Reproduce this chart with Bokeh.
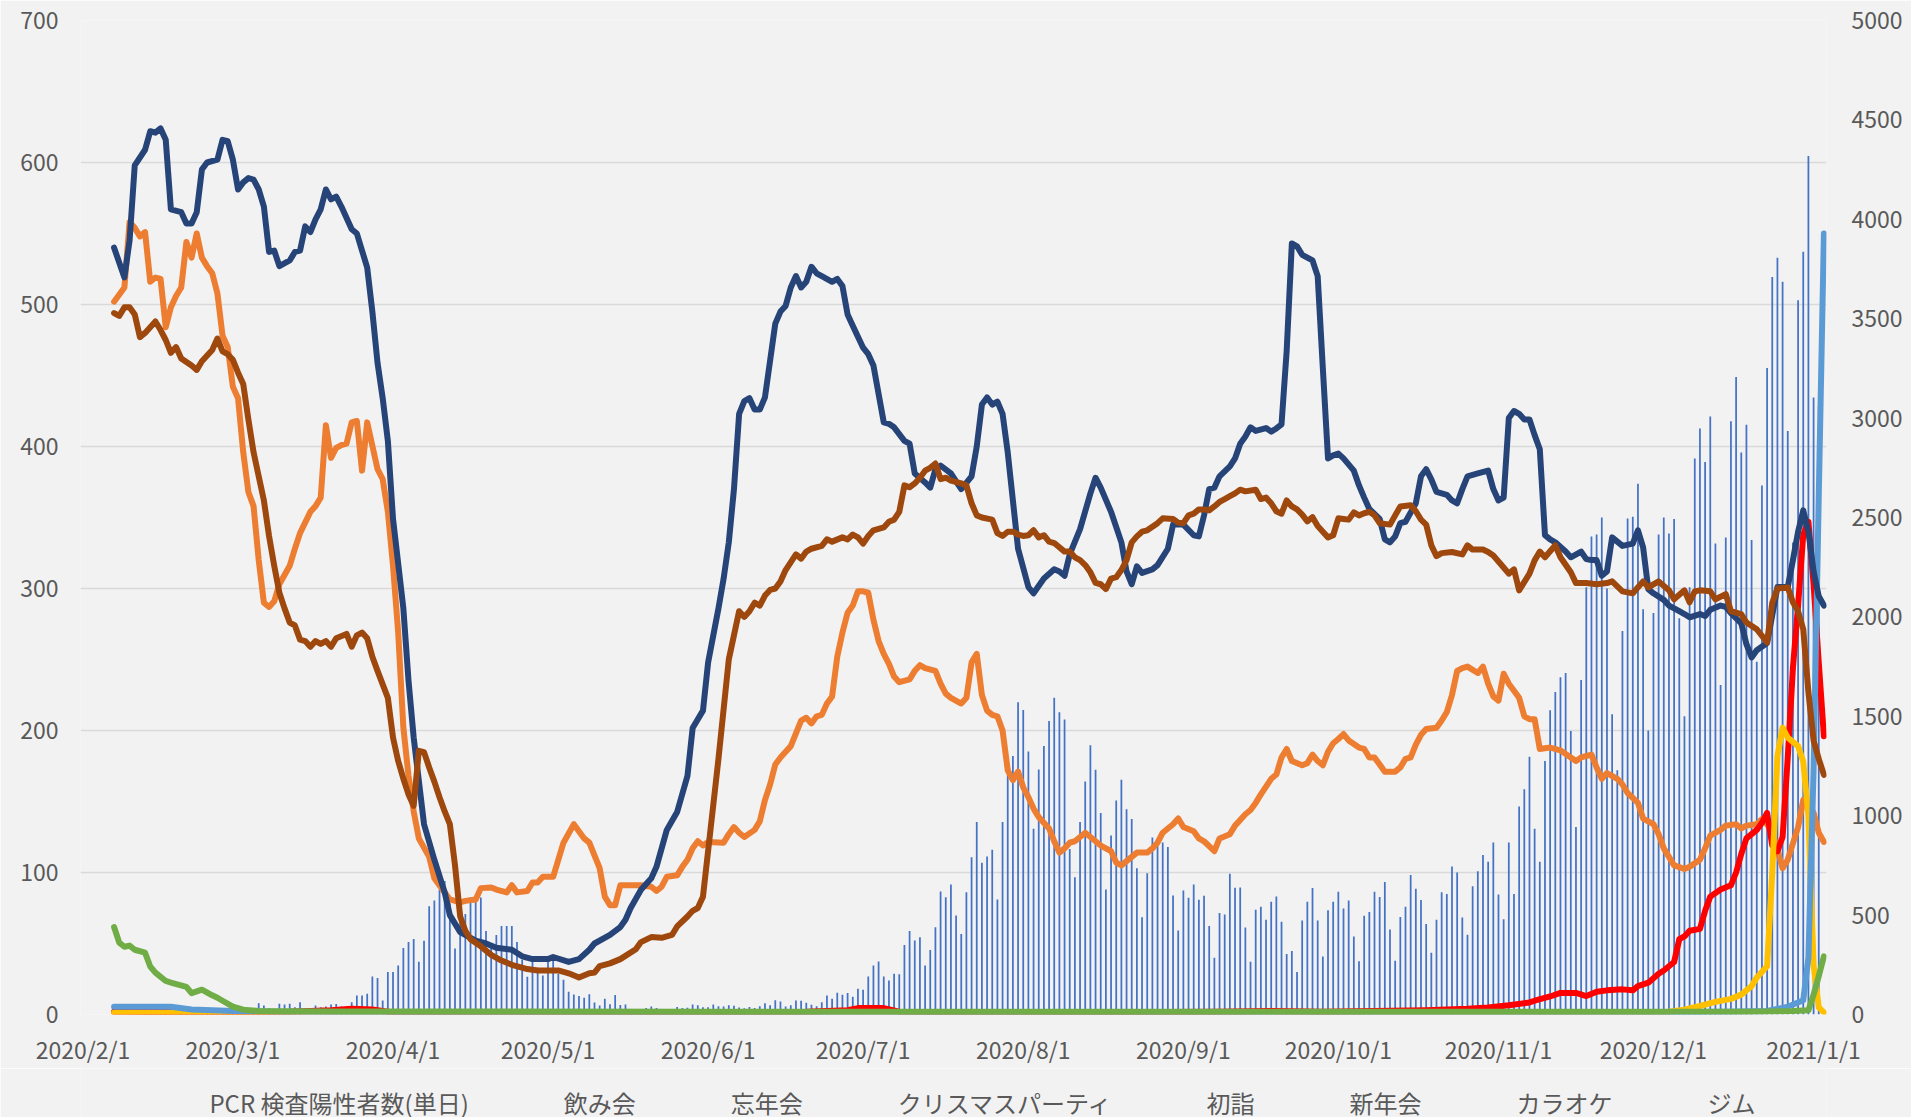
from datetime import date
from bokeh.plotting import figure
from bokeh.layouts import column
from bokeh.models import Range1d, LinearAxis, FixedTicker, Legend, LegendItem, ColumnDataSource
from bokeh.embed import file_html
from bokeh.resources import INLINE

START = date(2020, 2, 1)

def dnum(s):
    m, d = map(int, s.split("/"))
    y = 2021 if m == 1 else 2020
    return (date(y, m, d) - START).days

# ---------------- data ----------------
# PCR positives (daily, right axis), consecutive days from 2020/2/1
PCR_FEB = [0,0,0,0,0,0,0,0,0,0,0,1,4,8,12,5,7,10,3,12,11,23,12,3,11,14,19,21,9]
PCR_MAR = [9,14,16,33,30,57,45,33,26,54,50,54,37,62,32,15,45,37,40,50,53,40,40,62,96,96,104,191,183,70,214]
PCR_APR = [214,247,334,365,380,265,371,545,573,627,672,560,332,505,505,590,590,588,420,360,400,445,445,445,365,275,190,275,235,196]
PCR_MAY = [265,290,205,175,115,100,93,84,102,60,45,79,52,98,48,50,25,25,28,33,40,33,21,26,21,38,33,34,50,47,37]
PCR_JUN = [36,50,41,40,47,44,35,31,38,33,41,57,46,72,66,40,47,71,69,59,49,42,61,96,79,109,99,108,89,130]
PCR_JUL = [124,191,246,266,191,171,205,202,350,420,372,389,246,325,439,619,590,654,498,405,615,791,968,763,795,829,579,968,1295,1300,1571]
PCR_AUG = [1532,1323,934,1233,1350,1476,1593,1521,1484,833,690,968,1172,1354,1231,1014,629,900,1077,1181,1033,983,736,489,711,890,872,865,842,599,423]
PCR_SEP = [624,587,654,577,597,445,285,511,503,708,637,639,437,265,527,542,476,567,594,467,304,320,214,473,567,636,473,292,524,567]
PCR_OCT = [618,533,573,392,268,497,515,618,591,666,428,271,491,542,702,633,576,455,310,476,615,606,745,714,488,401,645,720,802,768,865]
PCR_NOV = [603,479,865,606,1046,1133,1296,934,768,1275,1531,1622,1697,1718,1426,943,1682,2149,2405,2414,2500,2143,1510,1228,1929,2495,2504,2670,2038,1429]
PCR_DEC = [2019,2414,2500,2420,2493,1993,1500,2149,2797,2948,2779,3008,2369,1658,2399,2984,3207,2827,2966,2387,1775,2661,3252,3710,3806,3686,2935,2374,3593,3837,4319]
PCR_JAN = [3104,3059]

NOMIKAI = [("2/7",502),("2/9",512),("2/10",558),("2/11",554),("2/12",548),("2/13",551),("2/14",516),("2/15",519),("2/16",518),("2/17",484),("2/18",498),("2/19",506),("2/20",512),("2/21",544),("2/22",533),("2/23",550),("2/24",533),("2/25",527),("2/26",522),("2/27",508),("2/28",478),("2/29",470),("3/1",442),("3/2",434),("3/3",396),("3/4",368),("3/5",358),("3/6",320),("3/7",290),("3/8",287),("3/9",291),("3/10",303),("3/12",316),("3/13",328),("3/14",339),("3/16",354),("3/17",358),("3/18",364),("3/19",415),("3/20",392),("3/21",399),("3/22",401),("3/23",402),("3/24",417),("3/25",418),("3/26",383),("3/27",417),("3/29",384),("3/30",377),("3/31",354),("4/1",316),("4/2",269),("4/3",202),("4/4",168),("4/5",143),("4/6",124),("4/8",111),("4/9",96),("4/11",86),("4/12",81),("4/14",79),("4/15",80),("4/17",81),("4/18",89),("4/20",89.5),("4/21",88),("4/23",86),("4/24",91),("4/25",86),("4/27",87),("4/28",93),("4/29",93),("4/30",97),("5/2",97),("5/4",121),("5/6",134),("5/8",124),("5/9",121),("5/11",103),("5/12",83),("5/13",77),("5/14",77),("5/15",91),("5/17",91),("5/19",91),("5/21",90),("5/22",87),("5/23",90),("5/24",97),("5/26",98),("5/27",104),("5/28",109),("5/29",117),("5/30",122),("5/31",119),("6/1",121.5),("6/4",121),("6/5",127),("6/6",132),("6/7",128),("6/8",125),("6/10",130),("6/11",136),("6/12",151),("6/13",162),("6/14",176),("6/15",181),("6/17",189),("6/18",198),("6/19",207),("6/20",209),("6/21",205),("6/22",210),("6/23",211),("6/24",219),("6/25",224),("6/26",252),("6/27",269),("6/28",283),("6/29",288),("6/30",298),("7/1",298),("7/2",297),("7/3",278),("7/4",263),("7/5",254),("7/6",247),("7/7",238),("7/8",234),("7/10",236),("7/11",242),("7/12",246),("7/13",244),("7/15",242),("7/16",233),("7/17",226),("7/18",223),("7/20",219),("7/21",223),("7/22",248),("7/23",254),("7/24",225),("7/25",214),("7/26",211),("7/27",210),("7/28",200),("7/29",172),("7/30",165),("7/31",171),("8/1",160),("8/2",153),("8/3",145),("8/4",139),("8/6",131),("8/7",122),("8/8",114),("8/9",117),("8/10",121),("8/11",122),("8/13",128),("8/14",125),("8/16",119),("8/17",117),("8/18",115),("8/19",107),("8/20",105),("8/22",111),("8/23",114),("8/25",114),("8/26",117),("8/27",121),("8/28",128),("8/30",134),("8/31",138),("9/1",132),("9/3",129),("9/4",124),("9/5",122),("9/7",115),("9/8",124),("9/10",127),("9/11",133),("9/12",137),("9/13",141),("9/14",144),("9/15",149),("9/16",155),("9/18",166),("9/19",169),("9/20",181),("9/21",187),("9/22",178.5),("9/24",175.5),("9/25",177),("9/26",183),("9/27",178.5),("9/28",175.5),("9/29",185),("9/30",191),("10/1",194),("10/2",197.5),("10/3",193),("10/5",188),("10/6",187),("10/7",181),("10/8",181),("10/9",176),("10/10",171),("10/12",171),("10/13",174),("10/14",180),("10/15",181),("10/16",190),("10/17",197),("10/18",201),("10/20",202),("10/21",207),("10/22",213),("10/23",225),("10/24",242),("10/25",244),("10/26",245),("10/28",240.5),("10/29",245),("10/30",233),("10/31",224),("11/1",221),("11/2",240),("11/3",233),("11/5",223),("11/6",210),("11/7",208),("11/8",208),("11/9",187),("11/11",188),("11/13",186),("11/15",181),("11/16",178.5),("11/17",181),("11/19",183),("11/20",174),("11/21",166),("11/22",170),("11/24",166),("11/25",162),("11/26",156),("11/28",149),("11/29",138),("12/1",134),("12/2",127),("12/3",117),("12/4",111),("12/5",105),("12/7",102.5),("12/8",104),("12/10",109),("12/11",117),("12/12",126),("12/14",130),("12/15",133),("12/17",134),("12/18",131),("12/19",133),("12/21",134),("12/22",137.6),("12/23",134),("12/24",128),("12/25",116),("12/26",103),("12/27",109),("12/29",132),("12/30",151),("12/31",149),("1/1",142),("1/2",128),("1/3",121.5)]

BONENKAI = [("2/7",2),("2/21",1.5),("3/12",2),("3/20",3),("3/24",4),("3/28",3.5),("4/1",1.5),("4/21",1),("5/11",1),("5/31",1.5),("6/20",2),("6/28",3),("6/30",4.5),("7/5",4.5),("7/8",2),("7/20",1.5),("8/19",1.5),("9/8",2),("9/18",2.5),("9/28",2),("10/8",2.5),("10/18",3),("10/26",4),("10/30",5),("11/3",6.5),("11/7",8.5),("11/8",9.7),("11/11",12.7),("11/13",15.2),("11/16",15.2),("11/18",13),("11/20",16),("11/22",17),("11/25",17.7),("11/27",17),("11/28",20),("11/30",22.4),("12/2",28.7),("12/3",31),("12/5",37),("12/6",53),("12/7",55),("12/8",59),("12/10",60.3),("12/11",73),("12/12",83),("12/14",88),("12/16",91),("12/17",100),("12/18",113),("12/19",124),("12/21",130),("12/22",135),("12/23",142),("12/24",119),("12/25",115),("12/26",125),("12/27",181),("12/28",244),("12/29",288),("12/30",338),("12/31",347),("1/1",303),("1/2",248),("1/3",196)]

XMAS = [("2/7",1.2),("2/20",1),("3/10",0.5),("11/1",0.5),("11/20",1),("12/1",1.5),("12/4",2),("12/7",3.4),("12/10",6),("12/13",8.9),("12/16",11),("12/18",14),("12/20",20),("12/21",26),("12/23",34),("12/24",100),("12/25",182),("12/26",202),("12/27",195),("12/28",192),("12/29",189),("12/30",178),("12/31",140),("1/1",35),("1/2",5),("1/3",1.5)]

HATSUMODE = [("2/7",5.5),("2/18",5.5),("2/22",3.5),("3/1",2.5),("3/10",2),("4/1",1.5),("6/1",1.3),("9/1",1.3),("12/1",1.5),("12/15",2),("12/23",2.5),("12/27",5.5),("12/30",10),("12/31",40),("1/1",172),("1/2",365),("1/3",550)]

SHINNENKAI = [("2/7",61.6),("2/8",50.6),("2/9",47.7),("2/10",48.5),("2/11",45.6),("2/13",43.5),("2/14",33.8),("2/15",29.5),("2/17",23.6),("2/18",22.5),("2/21",19.5),("2/22",15),("2/24",17.5),("2/26",13.5),("2/27",11.8),("2/28",9.7),("3/1",5.5),("3/3",3.4),("3/6",2.5),("3/20",2.2),("6/1",2),("9/1",2),("12/20",2),("12/28",2.5),("12/31",3),("1/1",14),("1/2",27),("1/3",41)]

KARAOKE = [("2/7",540),("2/9",519),("2/10",545),("2/11",598),("2/13",609),("2/14",622),("2/15",621),("2/16",624),("2/17",616),("2/18",567),("2/20",565),("2/21",557),("2/22",557),("2/23",565),("2/24",595),("2/25",600),("2/27",602),("2/28",616),("2/29",615),("3/1",602),("3/2",581),("3/3",586),("3/4",589),("3/5",588),("3/6",581),("3/7",569),("3/8",537),("3/9",538),("3/10",527),("3/12",531),("3/13",537),("3/14",538),("3/15",555),("3/16",551),("3/17",560),("3/18",567),("3/19",581),("3/20",574),("3/21",576),("3/22",569),("3/24",553),("3/25",550),("3/26",538),("3/27",526),("3/28",495),("3/29",459),("3/30",434),("3/31",404),("4/1",349),("4/3",286),("4/4",235),("4/5",195),("4/7",134),("4/9",109),("4/11",86),("4/12",70),("4/14",58),("4/17",52),("4/19",50),("4/21",47),("4/24",45.6),("4/26",41),("4/28",39),("5/1",39),("5/2",40.5),("5/5",37),("5/7",39),("5/9",45.6),("5/10",50),("5/13",56),("5/15",61.6),("5/16",66.7),("5/17",75),("5/19",87.8),("5/21",96),("5/22",104),("5/24",130),("5/26",142.6),("5/28",168),("5/29",201.7),("5/31",214),("6/1",248),("6/3",286),("6/4",307),("6/5",332.5),("6/6",370),("6/7",423),("6/8",432),("6/9",434),("6/10",426),("6/11",426),("6/12",434.6),("6/14",486.5),("6/15",495),("6/16",499),("6/17",512),("6/18",520),("6/19",512),("6/20",516),("6/21",526.6),("6/22",522),("6/23",520),("6/25",516),("6/26",518),("6/27",513),("6/28",493),("6/29",485),("7/1",469.6),("7/2",465),("7/3",457),("7/5",417),("7/6",416),("7/7",413.5),("7/9",404),("7/10",402),("7/11",381),("7/13",374.7),("7/14",371),("7/15",384),("7/16",386.5),("7/18",381),("7/20",370),("7/22",379),("7/23",400),("7/24",429.5),("7/25",434.6),("7/26",429.5),("7/27",431.6),("7/28",423),("7/29",395.8),("7/30",362),("7/31",328),("8/2",301),("8/3",296.6),("8/5",307),("8/7",313.5),("8/8",312),("8/9",309),("8/10",324),("8/12",341.8),("8/14",367),("8/15",378),("8/16",371),("8/18",354),("8/20",332.5),("8/21",312),("8/22",303),("8/23",315.6),("8/24",311),("8/26",313.5),("8/27",316.5),("8/29",328),("8/30",345),("9/1",345),("9/3",337.5),("9/4",336.7),("9/5",351.5),("9/6",370),("9/7",371),("9/8",379),("9/10",386),("9/11",391.6),("9/12",402),("9/13",407),("9/14",413.5),("9/15",411),("9/17",413),("9/18",410.5),("9/19",412.7),("9/20",415.6),("9/21",467.5),("9/22",543),("9/23",541),("9/24",535),("9/25",533),("9/26",531),("9/27",520),("9/28",455),("9/29",391.6),("9/30",393.7),("10/1",395),("10/2",391.6),("10/4",383),("10/5",372.6),("10/6",364),("10/7",356),("10/9",349),("10/10",334.6),("10/11",332.5),("10/12",336.7),("10/13",346),("10/14",347),("10/16",360),("10/17",379),("10/18",384),("10/19",376.8),("10/20",368),("10/22",366),("10/23",362),("10/24",360),("10/25",370),("10/26",379),("10/28",381),("10/30",383),("10/31",370),("11/1",362),("11/2",364),("11/3",420),("11/4",425),("11/5",423),("11/6",419),("11/7",419),("11/8",408),("11/9",398),("11/10",337.6),("11/11",334.6),("11/12",332.5),("11/14",326),("11/15",322),("11/17",326),("11/18",320.7),("11/19",320),("11/20",320),("11/21",309),("11/22",312),("11/23",336),("11/24",333),("11/25",330),("11/27",331.6),("11/28",341),("11/29",329),("11/30",299.6),("12/1",296.6),("12/3",292),("12/4",288),("12/6",284),("12/7",282),("12/8",279.7),("12/10",282),("12/11",280.6),("12/12",285),("12/14",288),("12/15",287),("12/16",282.7),("12/18",275.5),("12/19",260.8),("12/20",251.5),("12/21",256.5),("12/23",261.6),("12/25",301),("12/27",301),("12/28",320),("12/29",340),("12/30",355),("12/31",340),("1/1",312),("1/2",294.5),("1/3",288)]

GYM = [("2/7",494),("2/8",492),("2/9",498),("2/10",498),("2/11",493),("2/12",477),("2/13",480),("2/15",488),("2/16",482),("2/17",475),("2/18",466),("2/19",470),("2/20",462),("2/22",457),("2/23",454),("2/24",460),("2/26",468),("2/27",476),("2/28",467),("2/29",465),("3/1",461),("3/2",452),("3/3",444),("3/4",419),("3/5",396),("3/6",379),("3/7",362),("3/8",337),("3/9",316),("3/10",297),("3/11",286),("3/12",276),("3/13",274),("3/14",264),("3/15",263),("3/16",259),("3/17",263),("3/18",261),("3/19",263),("3/20",259),("3/21",265),("3/23",268),("3/24",259),("3/25",267),("3/26",269),("3/27",265),("3/28",252),("3/29",242),("3/31",223),("4/1",195),("4/2",178.5),("4/3",166),("4/4",155),("4/5",147),("4/6",185.7),("4/7",184.8),("4/8",174),("4/9",164),("4/10",153),("4/11",143),("4/12",134),("4/13",105),("4/14",69),("4/15",59),("4/16",53),("4/18",48),("4/20",42),("4/22",38),("4/24",35),("4/27",32),("4/29",31),("5/3",31),("5/5",29),("5/7",26),("5/9",29),("5/10",29.5),("5/11",34),("5/13",36),("5/15",39),("5/18",46),("5/19",51),("5/21",54.5),("5/23",54),("5/25",56),("5/26",62),("5/28",69),("5/29",73),("5/30",75),("5/31",83),("6/3",180),("6/5",250),("6/7",284),("6/8",280),("6/9",284),("6/10",290),("6/11",288),("6/12",295),("6/13",299),("6/14",300),("6/15",305),("6/16",313),("6/18",324),("6/19",321),("6/20",326),("6/21",328),("6/23",330),("6/24",334.6),("6/25",333),("6/27",336),("6/28",334.6),("6/29",338),("6/30",336),("7/1",331.6),("7/2",337),("7/3",341),("7/5",343),("7/6",347),("7/7",348.5),("7/8",354),("7/9",372.6),("7/10",371.3),("7/11",374),("7/12",378),("7/13",383),("7/14",385),("7/15",388),("7/16",377),("7/17",378),("7/18",376),("7/20",374),("7/21",372.6),("7/22",360),("7/23",351.5),("7/24",350),("7/26",348.5),("7/27",339),("7/28",337),("7/29",340),("7/30",340),("7/31",338),("8/1",337),("8/2",337.5),("8/3",341),("8/4",336),("8/5",337.5),("8/6",333),("8/7",332),("8/9",326),("8/10",326),("8/11",322),("8/12",320),("8/13",316.5),("8/14",311.4),("8/15",304),("8/16",303),("8/17",299.6),("8/18",307),("8/19",308),("8/20",313),("8/21",320),("8/22",332.5),("8/23",336.7),("8/24",340),("8/25",341),("8/27",346),("8/28",349.4),("8/30",349),("8/31",346.4),("9/1",346),("9/2",351.5),("9/3",352.7),("9/4",355.7),("9/5",355.7),("9/6",355),("9/7",357.8),("9/8",361),("9/9",363),("9/10",365),("9/11",367),("9/12",369.6),("9/13",368.4),("9/15",369.6),("9/16",363),("9/17",364),("9/18",360),("9/19",354.4),("9/20",352.7),("9/21",362),("9/22",357.8),("9/23",355.7),("9/24",352),("9/25",347.3),("9/26",350.2),("9/27",344),("9/28",340),("9/29",336),("9/30",337.5),("10/1",349.4),("10/2",349),("10/3",348.5),("10/4",353.6),("10/5",351.5),("10/6",353),("10/7",354),("10/8",351.5),("10/9",346),("10/11",345),("10/12",351.5),("10/13",357.8),("10/15",358.6),("10/16",354.4),("10/17",348.5),("10/18",345),("10/19",330.4),("10/20",322.8),("10/21",324.9),("10/23",325.7),("10/25",324),("10/26",330.4),("10/27",327.4),("10/29",327.4),("10/30",325.7),("10/31",323.2),("11/2",314.8),("11/3",310.5),("11/4",313.5),("11/5",298.7),("11/7",310.5),("11/8",319.8),("11/9",326),("11/10",322),("11/12",330.4),("11/13",322),("11/15",311.4),("11/16",303.8),("11/18",303.8),("11/20",303),("11/22",303.8),("11/23",305),("11/25",298),("11/27",296.6),("11/29",305),("11/30",300.8),("12/2",305),("12/4",298.7),("12/5",292.4),("12/7",298.7),("12/8",290.3),("12/9",298),("12/10",298.7),("12/12",298),("12/13",292.4),("12/15",296),("12/16",284),("12/18",281.9),("12/19",276),("12/21",271.3),("12/23",262),("12/24",290),("12/25",300),("12/27",300.8),("12/28",290.3),("12/29",284),("12/30",271.3),("12/31",227),("1/1",193),("1/2",180),("1/3",168.8)]

X_TICK_DATES = ["2/1","3/1","4/1","5/1","6/1","7/1","8/1","9/1","10/1","11/1","12/1","1/1"]
X_TICK_LABELS = ["2020/2/1","2020/3/1","2020/4/1","2020/5/1","2020/6/1","2020/7/1",
                 "2020/8/1","2020/9/1","2020/10/1","2020/11/1","2020/12/1","2021/1/1"]
LEFT_TICKS = list(range(0, 701, 100))
RIGHT_TICKS = list(range(0, 5001, 500))

SERIES = [
    ("飲み会", NOMIKAI, "#ED7D31"),
    ("忘年会", BONENKAI, "#FF0000"),
    ("クリスマスパーティ", XMAS, "#FFC000"),
    ("初詣", HATSUMODE, "#5B9BD5"),
    ("新年会", SHINNENKAI, "#70AD47"),
    ("カラオケ", KARAOKE, "#264478"),
    ("ジム", GYM, "#9E480E"),
]
BAR_LABEL = "PCR 検査陽性者数(単日)"
BAR_COLOR = "#4472C4"

# ---------------- main chart ----------------
FONT = "Noto Sans CJK JP"
TXT = "#595959"
BG = "#F2F2F2"
LINE_W = 6

p = figure(width=1911, height=1068, frame_width=1746, frame_height=994,
           output_backend="svg", toolbar_location=None,
           x_range=Range1d(-0.5, 337.5), y_range=Range1d(0, 700),
           min_border_left=80, min_border_right=85, min_border_top=20, min_border_bottom=54)
p.background_fill_color = BG
p.border_fill_color = BG
p.outline_line_color = None
p.extra_y_ranges = {"right": Range1d(0, 5000)}

pcr = PCR_FEB + PCR_MAR + PCR_APR + PCR_MAY + PCR_JUN + PCR_JUL + PCR_AUG + PCR_SEP + PCR_OCT + PCR_NOV + PCR_DEC + PCR_JAN
bar_src = ColumnDataSource(dict(x=list(range(len(pcr))), top=pcr))
p.vbar(x="x", top="top", width=0.34, source=bar_src, y_range_name="right",
       fill_color=BAR_COLOR, line_color=None)

for name, pts, col in SERIES:
    xs = [dnum(d) for d, v in pts]
    ys = [v for d, v in pts]
    p.line(xs, ys, line_color=col, line_width=LINE_W, line_join="round", line_cap="round")

xax = p.xaxis[0]
xax.ticker = FixedTicker(ticks=[dnum(d) for d in X_TICK_DATES])
xax.major_label_overrides = {dnum(d): lab for d, lab in zip(X_TICK_DATES, X_TICK_LABELS)}
yax = p.yaxis[0]
yax.ticker = FixedTicker(ticks=LEFT_TICKS)
rax = LinearAxis(y_range_name="right", ticker=FixedTicker(ticks=RIGHT_TICKS))
p.add_layout(rax, "right")
for ax in (xax, yax, rax):
    ax.axis_line_color = None
    ax.major_tick_line_color = None
    ax.minor_tick_line_color = None
    ax.major_tick_out = 0
    ax.major_tick_in = 0
    ax.major_label_text_font = FONT
    ax.major_label_text_font_size = "23px"
    ax.major_label_text_color = TXT
xax.major_label_standoff = 17
yax.major_label_standoff = 22
rax.major_label_standoff = 25

p.xgrid.grid_line_color = None
p.ygrid.grid_line_color = "#D9D9D9"
p.ygrid.grid_line_width = 1.3

# ---------------- legend strip (separate figure below the chart) ----------------
lg = figure(width=1911, height=49, output_backend="svg", toolbar_location=None,
            x_range=Range1d(0, 1), y_range=Range1d(0, 1),
            x_axis_type=None, y_axis_type=None,
            min_border_left=0, min_border_right=0, min_border_top=0, min_border_bottom=0)
lg.background_fill_color = BG
lg.border_fill_color = BG
lg.outline_line_color = None
lg.xgrid.grid_line_color = None
lg.ygrid.grid_line_color = None

bar_key = lg.vbar(x=[], top=[], width=0.1, fill_color=BAR_COLOR, line_color=None)
items = [LegendItem(label=BAR_LABEL, renderers=[bar_key])]
for name, pts, col in SERIES:
    rk = lg.line([], [], line_color=col, line_width=LINE_W, line_cap="round")
    items.append(LegendItem(label=name, renderers=[rk]))

leg = Legend(items=items, location="top_center", orientation="horizontal",
             padding=0, margin=17, spacing=36,
             glyph_width=54, glyph_height=16, label_standoff=5,
             border_line_alpha=0, background_fill_alpha=0,
             label_text_font=FONT, label_text_font_size="24px", label_text_color=TXT)
lg.add_layout(leg, "center")

layout = column(p, lg, spacing=0)

open("out.html", "w").write(file_html(layout, INLINE))
